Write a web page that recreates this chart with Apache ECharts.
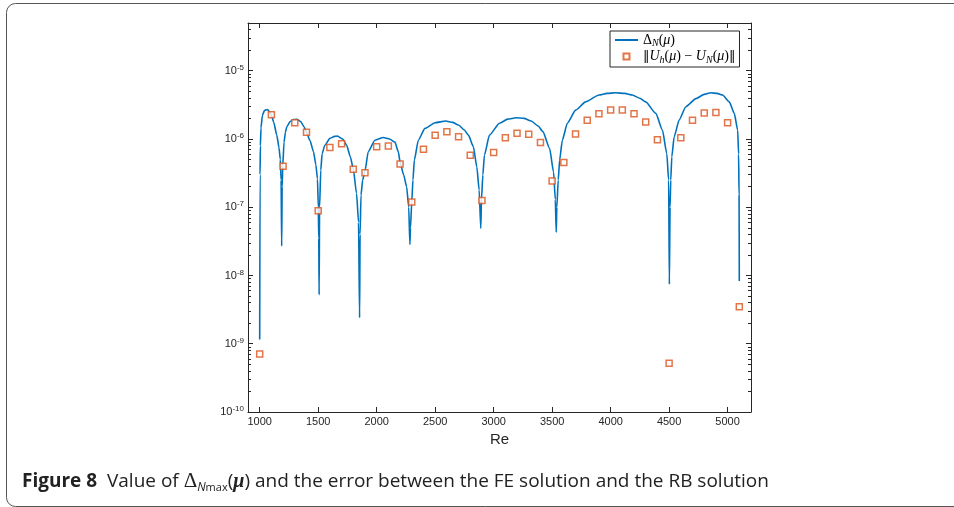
<!DOCTYPE html>
<head>
    <meta charset="utf-8">
    <title>Figure 8</title>
    <style>
        html, body{
            margin: 0;
            padding: 0;
            background: #fff;
        }
        #main{
            width: 954px;
            height: 507px;
        }
    </style>
</head>
<body>
    <div id="main"></div>
    <script src="https://cdn.jsdelivr.net/npm/echarts@6/dist/echarts.min.js"></script>
    <script>
        // Delta_N(mu)
        var deltaRe = [
            1000, 1003, 1006, 1011, 1023, 1040, 1066, 1085, 1100, 1120, 1146, 1165, 1176, 1183, 1188,
            1192, 1197, 1208, 1220, 1231, 1260, 1290, 1317, 1350, 1380, 1400, 1430, 1460, 1480, 1494, 1501, 1505, 1508,
            1512, 1522, 1534, 1557, 1600, 1640, 1665, 1710, 1743, 1775, 1800, 1828, 1845, 1854,
            1858, 1866, 1880, 1900, 1928, 1985, 2057, 2110, 2156, 2185, 2200, 2230, 2256, 2274, 2284,
            2289, 2300, 2310, 2322, 2356, 2413, 2499, 2590, 2650, 2699, 2750, 2784, 2827, 2856, 2876, 2890,
            2896, 2908, 2921, 2964, 3050, 3120, 3193, 3260, 3321, 3380, 3421, 3478, 3512, 3527, 3535,
            3540, 3552, 3564, 3587, 3630, 3701, 3786, 3901, 3970, 4043, 4120, 4186, 4250, 4300, 4386, 4443, 4480, 4496, 4502,
            4508, 4514, 4523, 4543, 4586, 4643, 4729, 4800, 4857, 4910, 4957, 5014, 5057, 5086, 5094, 5098, 5100
        ];
        var deltaVal = [
            1.15e-9, 3e-7, 8e-7, 1.45e-6, 2.2e-6, 2.6e-6, 2.7e-6, 2.5e-6, 2.25e-6, 1.75e-6, 1.14e-6, 7.5e-7, 5e-7, 2.5e-7, 2.7e-8,
            2e-7, 4e-7, 9e-7, 1.25e-6, 1.5e-6, 1.8e-6, 1.92e-6, 1.94e-6, 1.8e-6, 1.5e-6, 1.25e-6, 9.5e-7, 6.5e-7, 4.2e-7, 2.6e-7, 1e-7, 3.5e-8, 5.2e-9,
            1e-7, 3.5e-7, 6.1e-7, 8.1e-7, 1.02e-6, 1.09e-6, 1.1e-6, 1.0e-6, 8.1e-7, 5.5e-7, 3.6e-7, 1.6e-7, 6e-8, 2.4e-9,
            4e-8, 1.5e-7, 2.5e-7, 3.4e-7, 6.5e-7, 9.6e-7, 1.05e-6, 1.0e-6, 9e-7, 6.5e-7, 4.6e-7, 3e-7, 2e-7, 1e-7, 2.85e-8,
            5e-8, 1.2e-7, 2.5e-7, 4.9e-7, 9.6e-7, 1.43e-6, 1.73e-6, 1.83e-6, 1.75e-6, 1.6e-6, 1.35e-6, 1.14e-6, 7.7e-7, 3.9e-7, 1.8e-7, 4.9e-8,
            1.3e-7, 3e-7, 5.8e-7, 1.14e-6, 1.7e-6, 1.95e-6, 2.05e-6, 2.0e-6, 1.83e-6, 1.55e-6, 1.28e-6, 7.3e-7, 3.3e-7, 1.3e-7, 4.3e-8,
            1e-7, 2.5e-7, 4.9e-7, 9.6e-7, 1.7e-6, 2.65e-6, 3.5e-6, 4.4e-6, 4.65e-6, 4.75e-6, 4.65e-6, 4.4e-6, 3.95e-6, 3.5e-6, 2.37e-6, 1.35e-6, 6.1e-7, 2.5e-7, 7.4e-9,
            1e-7, 2.5e-7, 5.5e-7, 1.08e-6, 1.9e-6, 2.97e-6, 3.9e-6, 4.5e-6, 4.75e-6, 4.65e-6, 4.4e-6, 3.5e-6, 2.37e-6, 1.35e-6, 6e-7, 1.5e-7, 8.3e-9
        ];

        // ||U_h(mu) - U_N(mu)||, orange squares
        var errRe = [
            1000, 1100, 1200, 1300, 1400, 1500, 1600, 1700, 1800, 1900,
            2000, 2100, 2200, 2300, 2400, 2500, 2600, 2700, 2800, 2900,
            3000, 3100, 3200, 3300, 3400, 3500, 3600, 3700, 3800, 3900,
            4000, 4100, 4200, 4300, 4400, 4500, 4600, 4700, 4800, 4900,
            5000, 5100
        ];
        var errVal = [
            7.1e-10, 2.27e-6, 4.0e-7, 1.73e-6, 1.25e-6, 8.85e-8, 7.5e-7, 8.5e-7, 3.6e-7, 3.2e-7,
            7.7e-7, 7.9e-7, 4.3e-7, 1.19e-7, 7.05e-7, 1.13e-6, 1.28e-6, 1.08e-6, 5.75e-7, 1.26e-7,
            6.35e-7, 1.04e-6, 1.21e-6, 1.17e-6, 8.9e-7, 2.42e-7, 4.54e-7, 1.18e-6, 1.88e-6, 2.34e-6,
            2.65e-6, 2.65e-6, 2.34e-6, 1.77e-6, 9.7e-7, 5.2e-10, 1.04e-6, 1.88e-6, 2.4e-6, 2.45e-6,
            1.73e-6, 3.47e-9
        ];

        var xTicks = [1000, 1500, 2000, 2500, 3000, 3500, 4000, 4500, 5000];
        var yTicks = [1e-10, 1e-9, 1e-8, 1e-7, 1e-6, 1e-5];

        var deltaName = 'Delta_N(mu)';
        var errName = '||U_h(mu) - U_N(mu)||';

        // minor ticks 2..9 in every decade, up to the 5e-5 top
        var yMinor = [];
        for (var i = 0; i < yTicks.length; i++) {
            for (var m = 2; m <= 9; m++) {
                var v = m * yTicks[i];
                if (v < 5e-5) yMinor.push(v);
            }
        }

        var axisColor = '#262626';
        var lineData = deltaRe.map(function (re, i) { return [re, deltaVal[i]]; });
        var errData = errRe.map(function (re, i) { return [re, errVal[i]]; });

        function logAxis(pos, ticks, len, showLine, showLabel) {
            return {
                type: 'log',
                logBase: 10,
                position: pos,
                min: 1e-10,
                max: 5e-5,
                axisLine: { show: showLine, lineStyle: { color: axisColor, width: 1 } },
                axisTick: { show: true, inside: true, length: len, customValues: ticks, lineStyle: { color: axisColor, width: 1 } },
                axisLabel: {
                    show: showLabel,
                    customValues: ticks,
                    margin: 4,
                    formatter: function (v) {
                        return '{b|10}{e|' + Math.round(Math.log10(v)) + '}';
                    },
                    rich: {
                        b: { fontFamily: 'Liberation Sans', fontSize: 11, color: axisColor, lineHeight: 14 },
                        e: { fontFamily: 'Liberation Sans', fontSize: 8, color: axisColor, verticalAlign: 'top', lineHeight: 8 }
                    }
                },
                splitLine: { show: false },
                minorTick: { show: false }
            };
        }

        function xAxis(pos, showLabel) {
            return {
                type: 'value',
                position: pos,
                min: 900,
                max: 5200,
                name: showLabel ? 'Re' : '',
                nameLocation: 'middle',
                nameGap: 17,
                nameTextStyle: { fontFamily: 'Liberation Sans', fontSize: 15, color: axisColor },
                axisLine: { show: true, lineStyle: { color: axisColor, width: 1 } },
                axisTick: { show: true, inside: true, length: 5, customValues: xTicks, lineStyle: { color: axisColor } },
                axisLabel: {
                    show: showLabel,
                    customValues: xTicks,
                    margin: 4,
                    formatter: function (v) { return String(v); },
                    fontFamily: 'Liberation Sans',
                    fontSize: 11,
                    color: axisColor
                },
                splitLine: { show: false }
            };
        }

        var chart = echarts.init(document.getElementById('main'), null, { renderer: 'canvas' });

        var option = {
            backgroundColor: '#fff',
            animation: false,
            grid: { left: 248, right: 203, top: 23, bottom: 95, containLabel: false },
            xAxis: [xAxis('bottom', true), xAxis('top', false)],
            yAxis: [
                logAxis('left', yTicks, 5, true, true),
                logAxis('left', yMinor, 3, false, false),
                logAxis('right', yTicks, 5, true, false),
                logAxis('right', yMinor, 3, false, false)
            ],
            legend: {
                orient: 'vertical',
                left: 610,
                top: 31,
                padding: [2, 4, 2, 4],
                itemGap: 1,
                itemWidth: 23,
                itemHeight: 6,
                backgroundColor: '#fff',
                borderColor: axisColor,
                borderWidth: 1,
                borderRadius: 0,
                data: [
                    { name: deltaName, itemStyle: { opacity: 0 } },
                    { name: errName, icon: 'path://M0,0H10V10H0Z' }
                ],
                formatter: function (name) {
                    if (name === deltaName) {
                        return '{r|Δ}{s|N}{r|(}{i|μ}{r|)}';
                    }
                    return '{n|‖}{i|U}{s|h}{r|(}{i|μ}{r|) − }{i|U}{s|N}{r|(}{i|μ}{r|)}{n|‖}';
                },
                textStyle: {
                    rich: {
                        r: { fontFamily: 'Liberation Serif', fontSize: 14, color: '#000', lineHeight: 17 },
                        n: { fontFamily: 'DejaVu Serif', fontSize: 13, color: '#000', lineHeight: 17 },
                        i: { fontFamily: 'Liberation Serif', fontStyle: 'italic', fontSize: 14, color: '#000', lineHeight: 17 },
                        s: { fontFamily: 'Liberation Serif', fontStyle: 'italic', fontSize: 10, color: '#000', verticalAlign: 'bottom', lineHeight: 11 }
                    }
                }
            },
            series: [
                {
                    name: deltaName,
                    type: 'line',
                    xAxisIndex: 0,
                    yAxisIndex: 0,
                    data: lineData,
                    symbol: 'none',
                    smooth: 0.2,
                    smoothMonotone: 'x',
                    lineStyle: { color: '#0072BD', width: 1.6 },
                    itemStyle: { color: '#0072BD' },
                    z: 2
                },
                {
                    name: errName,
                    type: 'scatter',
                    xAxisIndex: 0,
                    yAxisIndex: 0,
                    data: errData,
                    symbol: 'rect',
                    symbolSize: 6,
                    itemStyle: { color: '#fff', borderColor: '#D95319', borderWidth: 1.5 },
                    z: 3
                }
            ],
            graphic: [
                {
                    type: 'rect',
                    shape: { x: 6.5, y: 3.5, width: 1000, height: 503, r: 9 },
                    style: { fill: 'none', stroke: '#555', lineWidth: 1 },
                    silent: true,
                    z: -1
                },
                {
                    type: 'text',
                    left: 22,
                    top: 471,
                    style: {
                        text: '{fb|Figure 8}{t|  Value of }{d|Δ}{sn|N}{sm|max}{t|(}{mu|μ}{t|) and the error between the FE solution and the RB solution}',
                        rich: {
                            fb: { fontFamily: 'Open Sans', fontWeight: 'bold', fontSize: 19, fill: '#222', lineHeight: 24 },
                            t: { fontFamily: 'Open Sans', fontSize: 19, fill: '#222', lineHeight: 24 },
                            d: { fontFamily: 'Liberation Serif', fontSize: 21, fill: '#222', lineHeight: 24 },
                            sn: { fontFamily: 'Open Sans', fontStyle: 'italic', fontSize: 12, fill: '#222', verticalAlign: 'bottom', lineHeight: 16 },
                            sm: { fontFamily: 'Open Sans', fontSize: 11, fill: '#222', verticalAlign: 'bottom', lineHeight: 11 },
                            mu: { fontFamily: 'Liberation Serif', fontStyle: 'italic', fontWeight: 'bold', fontSize: 20, fill: '#222', lineHeight: 24 }
                        }
                    }
                }
            ]
        };

        chart.setOption(option);
    </script>
</body>
